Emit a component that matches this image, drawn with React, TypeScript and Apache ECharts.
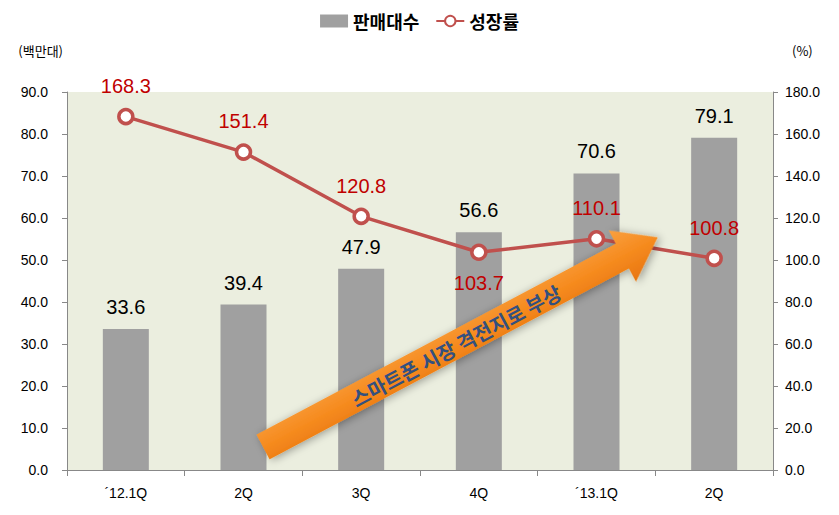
import React, { useEffect, useRef } from "react";
import * as echarts from "echarts";

const categories = ["´12.1Q", "2Q", "3Q", "4Q", "´13.1Q", "2Q"];
const salesValues = [33.6, 39.4, 47.9, 56.6, 70.6, 79.1];
const growthValues = [168.3, 151.4, 120.8, 103.7, 110.1, 100.8];
const growthLabelPos = ["top", "top", "top", "bottom", "top", "top"];
const seriesNames = ["판매대수", "성장률"];
const leftAxisName = "(백만대)";
const rightAxisName = "(%)";
const arrowText = "스마트폰 시장 격전지로 부상";

const KR = "'Noto Sans CJK KR', 'Liberation Sans', sans-serif";
const NUM = "'Liberation Sans', Arial, sans-serif";

export default function App() {
  const ref = useRef<HTMLDivElement>(null);
  useEffect(() => {
    if (!ref.current) return;
    const chart = echarts.init(ref.current, null, { renderer: "svg" });
    const L = 447;
    const ang = (28 * Math.PI) / 180;
    chart.setOption({
      animation: false,
      backgroundColor: "#ffffff",
      legend: {
        top: 7,
        left: "center",
        itemGap: 16,
        itemWidth: 28,
        itemHeight: 13,
        textStyle: { fontSize: 18, fontWeight: "bold", color: "#000", fontFamily: KR },
        data: [
          { name: seriesNames[0], icon: "rect" },
          { name: seriesNames[1] },
        ],
      },
      grid: {
        left: 67,
        right: 66,
        top: 92,
        bottom: 45,
        show: true,
        backgroundColor: "#EBEEDF",
        borderWidth: 0,
      },
      xAxis: {
        type: "category",
        data: categories,
        axisLine: { lineStyle: { color: "#888", width: 1 } },
        axisTick: { show: true, length: 6, lineStyle: { color: "#888" } },
        axisLabel: { fontSize: 14, color: "#000", fontFamily: NUM, margin: 16 },
      },
      yAxis: [
        {
          type: "value",
          min: 0,
          max: 90,
          interval: 10,
          name: leftAxisName,
          nameLocation: "end",
          nameGap: 35,
          nameTextStyle: { fontSize: 13, color: "#000", fontFamily: KR, align: "right", padding: [0, 4, 0, 0] },
          axisLine: { show: true, lineStyle: { color: "#888" } },
          axisTick: { show: true, length: 5, lineStyle: { color: "#888" } },
          splitLine: { show: false },
          axisLabel: { fontSize: 14, color: "#000", fontFamily: NUM, margin: 19, formatter: (v: number) => v.toFixed(1) },
        },
        {
          type: "value",
          min: 0,
          max: 180,
          interval: 20,
          name: rightAxisName,
          nameLocation: "end",
          nameGap: 35,
          nameTextStyle: { fontSize: 13, color: "#000", fontFamily: KR, align: "left", padding: [0, 0, 0, 19] },
          axisLine: { show: true, lineStyle: { color: "#888" } },
          axisTick: { show: true, length: 5, lineStyle: { color: "#888" } },
          splitLine: { show: false },
          axisLabel: { fontSize: 14, color: "#000", fontFamily: NUM, margin: 12, formatter: (v: number) => v.toFixed(1) },
        },
      ],
      series: [
        {
          name: seriesNames[0],
          type: "bar",
          data: salesValues,
          barWidth: 46,
          itemStyle: { color: "#A0A0A0" },
          label: {
            show: true,
            position: "top",
            distance: 12,
            fontSize: 20,
            color: "#000",
            fontFamily: NUM,
            formatter: (p: any) => p.value.toFixed(1),
          },
        },
        {
          name: seriesNames[1],
          type: "line",
          yAxisIndex: 1,
          data: growthValues.map((v, i) => ({
            value: v,
            label: { position: growthLabelPos[i] },
          })),
          symbol: "circle",
          symbolSize: 14,
          lineStyle: { color: "#C0504D", width: 3.5 },
          itemStyle: { color: "#ffffff", borderColor: "#C0504D", borderWidth: 3.5 },
          label: {
            show: true,
            distance: 12,
            fontSize: 20,
            color: "#C00000",
            fontFamily: NUM,
            formatter: (p: any) => p.value.toFixed(1),
          },
          z: 5,
        },
      ],
      graphic: [
        {
          type: "group",
          x: 263,
          y: 447,
          rotation: ang,
          z: 100,
          children: [
            {
              type: "polygon",
              z: 100,
              shape: {
                points: [
                  [0, -14],
                  [L - 40, -14],
                  [L - 40, -29],
                  [L, 0],
                  [L - 40, 29],
                  [L - 40, 14],
                  [0, 14],
                ],
              },
              style: {
                fill: new echarts.graphic.LinearGradient(0, 0, 0, 1, [
                  { offset: 0, color: "#F9A040" },
                  { offset: 0.5, color: "#F68B1F" },
                  { offset: 1, color: "#E8750F" },
                ]),
                shadowBlur: 8,
                shadowColor: "rgba(0,0,0,0.35)",
                shadowOffsetX: 2,
                shadowOffsetY: 2,
              },
            },
            {
              type: "text",
              z: 101,
              x: 218,
              y: 1,
              style: {
                text: arrowText,
                fontSize: 20,
                fontWeight: "bold",
                fill: "#33507F",
                fontFamily: KR,
                align: "center",
                verticalAlign: "middle",
              },
            },
          ],
        },
      ],
    });
    return () => chart.dispose();
  }, []);
  return <div ref={ref} style={{ width: 839, height: 515, position: "absolute", left: 0, top: 0 }} />;
}
